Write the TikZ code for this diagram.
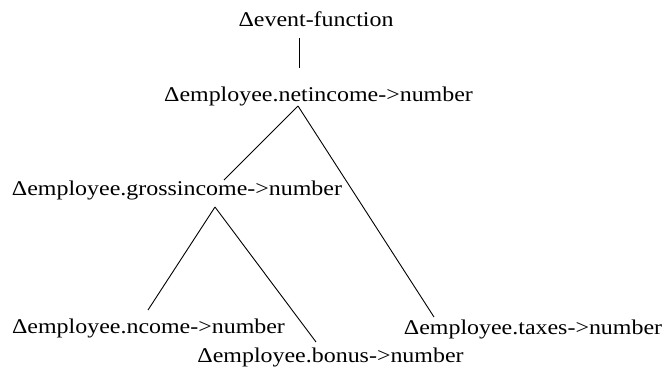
\documentclass[tikz,border=0pt]{standalone}
\usepackage{graphicx}
\usepackage{fontspec}
\setmainfont{Liberation Serif}
\newcommand{\wide}[1]{\scalebox{1.14}[1]{#1}}
\begin{document}
\begin{tikzpicture}[x=1pt,y=-1pt,
  lbl/.style={inner sep=0pt,anchor=base,font=\fontsize{21}{24}\selectfont},
  edge/.style={draw=black,line width=0.9pt}]
\useasboundingbox (0,0) rectangle (671,368);
\node[lbl] (ev) at (316,26) {\wide{Δevent-function}};
\node[lbl] (net) at (318.5,101) {\wide{Δemployee.netincome->number}};
\node[lbl] (gross) at (177,195) {\wide{Δemployee.grossincome->number}};
\node[lbl] (ncome) at (148.5,333) {\wide{Δemployee.ncome->number}};
\node[lbl] (bonus) at (330.5,362) {\wide{Δemployee.bonus->number}};
\node[lbl] (taxes) at (533,334) {\wide{Δemployee.taxes->number}};
\coordinate (evb) at (299,38);
\coordinate (nett) at (299,68);
\coordinate (netb) at (298,106);
\coordinate (grosst) at (224,180);
\coordinate (grossb) at (215,207);
\coordinate (ncomet) at (148,310);
\coordinate (bonust) at (316,342);
\coordinate (taxest) at (434,317);
\draw[edge] (evb) -- (nett);
\draw[edge] (netb) -- (grosst);
\draw[edge] (netb) -- (taxest);
\draw[edge] (grossb) -- (ncomet);
\draw[edge] (grossb) -- (bonust);
\end{tikzpicture}
\end{document}
